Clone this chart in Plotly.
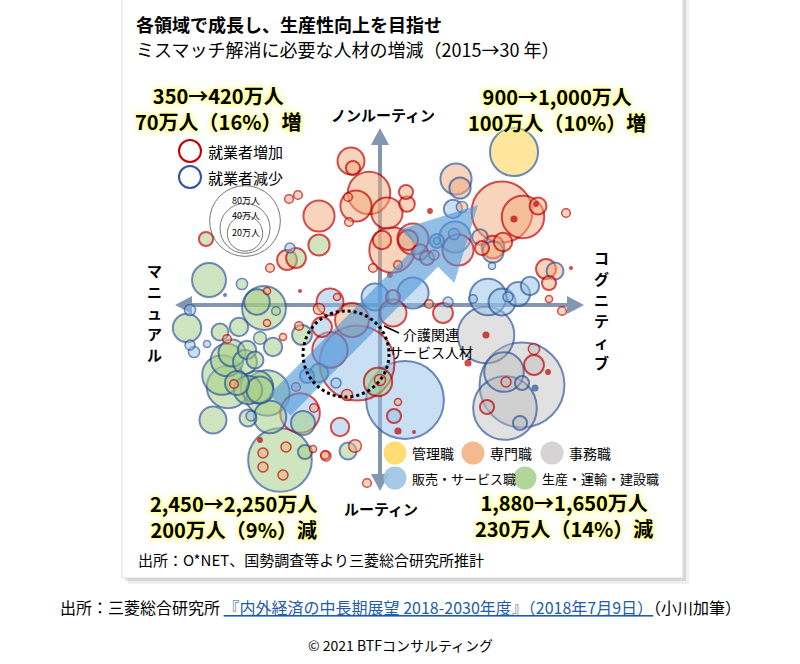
import math
import plotly.graph_objects as go

# ---------------- data ----------------
# position of each occupation: cognitive(+)/manual(-) score, non-routine(+)/routine(-) score
x_score = [
    -29, -27, -91, -82, -61, -31, -11, -24, -32, -61, -174, -90, -93, -84, -110, -171, -138, -7, -113,
    12, 2, 18, 7, 26, 27, -123, -116, -104, -113,
    134, 76, 80, 73, 82, 122, 143, 134, 158, 156, 186, 33, 28, 40, 47, 54, 57, 57, 75, 78, 74, 100,
    113, 123, 113, 102, 112, 166, 175, 169, 169, 191, 108, 122, 138, 150, 128, 93, 68, 33, 13, -5, 50, 10,
    49, 63, 13, 182, 106, 106, 154, 154, 124, 142, 125, 142, 126, 155, 107, 140, 88, 168, 25, 18, 14, 18, 34,
    -190, -193, -160, -141, -153, -120, -107, -97, -190, -186, -173, -148, -153, -133, -135, -125, -158,
    -152, -143, -132, -123, -113, -120, -146, -167, -132, -129, -110, -100, -117, -94, -117, -97, -75,
    -67, -54, -40, -32, -25, -120, -80, -77, -66, -84, -73, -61, -58, -61, -50, -28, -50, -23, -2, 0,
    -81, -78, -33, -44, -13, -55, -43, -155, -80,
]
y_score = [
    144, 137, 106, 110, 89, 83, 112, 99, 108, 60, 66, 57, 45, 47, 37, 25, 21, 37, 14,
    55, 65, 40, 92, 113, 101, 3, -3, -6, -18,
    153, 126, 117, 96, 98, 93, 88, 86, 99, 101, 92, 66, 65, 53, 47, 50, 64, 64, 68, 55, 71, 68,
    58, 63, 53, 57, 39, 36, 34, 22, 6, 37, 8, 3, 11, 19, 8, 6, 3, 12, 8, 8, 94, 30,
    1, -8, -8, -6, -30, -30, -44, -60, -67, -80, -103, -78, -77, -83, -102, -118, -58, -67, -95, -97, -111, -126, -127,
    -5, -23, -27, -22, -34, -33, -42, -32, -40, -47, -39, -48, -55, -45, -57, -55, -70,
    -82, -78, -85, -82, -88, -85, -79, -115, -113, -111, -112, -155, -148, -142, -162, -170, -147,
    -144, -151, -122, -146, -141, -135, -108, -118, -103, -82, -71, -68, -22, -4, 3, -15, -45, -58, -77, -75,
    -21, -30, -90, -78, -178, -150, 8, 10, 14,
]
# employment (万人)
workers = [
    11.6, 3.2, 1.2, 1.2, 15.5, 1.2, 28.8, 15.5, 1.2, 7.2, 3.2, 1.6, 6.3, 6.3, 1.2, 18.4, 2.0, 1.2, 0.8,
    32.8, 5.4, 1.2, 15.5, 3.2, 3.9, 10.4, 30.8, 1.2, 0.8,
    37.0, 15.5, 7.2, 5.4, 2.0, 59.2, 28.8, 0.5, 4.6, 0.3, 1.2, 15.5, 6.3, 3.9, 3.2, 1.6, 3.2, 0.8, 15.5, 15.5, 2.0, 3.9,
    8.2, 5.4, 7.2, 3.2, 0.8, 6.3, 4.6, 3.2, 0.8, 0.1, 21.6, 11.6, 9.2, 5.4, 1.6, 1.2, 1.6, 15.5, 3.2, 11.6, 0.3, 0.3,
    1.2, 6.3, 11.6, 1.2, 51.2, 0.5, 2.0, 6.3, 25.1, 115.2, 64.8, 3.2, 1.6, 0.5, 3.2, 3.2, 0.5, 0.3, 96.8, 0.8, 3.2, 0.5, 0.1,
    2.0, 12.8, 4.6, 5.4, 1.2, 2.6, 5.4, 0.8, 1.6, 2.0, 0.8, 11.6, 16.9, 5.4, 9.2, 4.6, 25.1,
    28.8, 9.2, 12.8, 16.9, 32.8, 11.6, 1.2, 11.6, 4.6, 1.6, 16.9, 64.8, 1.6, 1.6, 1.6, 1.6, 3.2,
    0.8, 1.6, 5.4, 4.6, 2.6, 0.3, 25.1, 9.2, 1.2, 1.2, 3.2, 5.4, 6.3, 2.0, 11.6, 18.4, 20.0, 89.9, 12.8, 2.0,
    1.2, 6.3, 2.0, 1.6, 1.2, 1.2, 0.8, 0.1, 0.1,
]
# M=管理職 P=専門職 C=事務職 S=販売・サービス職 G=生産・運輸・建設職
occupation = list(
    "PPPPPPPPPGGSPGPGGPP"
    "PPPPPPGGGP"
    "MPPSPPPPPPPCPCCCSGCCSP"
    "PPPPSPPPPPSSSSSSSSCSPP"
    "PCCPCPCCCCCCCSCCPPSPSPP"
    "SGGGPGGPSSSGGGGGG"
    "GGGGGGPGGSGGPPPPG"
    "PPSGPPSGPCSGSPSPSSGP"
    "PGPSPPPSP"
)
# u = employment increase (red ring), d = decrease (blue ring)
change = list(
    "uuuuuuuuuuuduuudduu"
    "uuuuuudddu"
    "ddddduuuuuuuuuuudddudd"
    "uudududuuudddddddduduu"
    "uuuuduuuddddududuuduuuu"
    "ddddudduddddddddd"
    "dddddduddddduuuud"
    "uuuduuuduuddu" "uuuuuuu"
    "ududuuudu"
)

categories = ["管理職", "専門職", "事務職", "販売・サービス職", "生産・運輸・建設職"]
quadrant_text = [
    "350→420万人<br>70万人（16%）増",
    "900→1,000万人<br>100万人（10%）増",
    "2,450→2,250万人<br>200万人（9%）減",
    "1,880→1,650万人<br>230万人（14%）減",
]
size_legend = [80, 40, 20]

# ---------------- styling ----------------
CX, CY = 380, 305          # pixel position of axis crossing
def X(px):
    return px - CX
def Y(py):
    return CY - py

FONT = "Noto Sans CJK JP"
FILL = {
    "M": "rgba(255,214,90,0.85)",
    "P": "rgba(244,172,125,0.72)",
    "C": "rgba(185,185,185,0.60)",
    "S": "rgba(150,192,232,0.72)",
    "G": "rgba(165,207,135,0.75)",
}
SOLID = {"M": "#FFD966", "P": "#F4B183", "C": "#D0CECE", "S": "#9DC3E6", "G": "#A9D18E"}
RING = {"u": "#C00000", "d": "#2F5597"}
SIZEREF = 0.032  # area mode: diameter = sqrt(v/sizeref)  -> 80万人 = 50px

n = min(len(x_score), len(y_score), len(workers), len(occupation), len(change))
order = sorted(range(n), key=lambda i: -workers[i])
fills, lines, widths = [], [], []
for i in order:
    ring = RING[change[i]]
    fills.append(ring if workers[i] < 0.6 else FILL[occupation[i]])
    lines.append(ring)
    widths.append(2 if workers[i] >= 3 else 1.5)

fig = go.Figure()
fig.add_trace(go.Scatter(
    x=[x_score[i] for i in order], y=[y_score[i] for i in order],
    mode="markers",
    marker=dict(size=[workers[i] for i in order], sizemode="area", sizeref=SIZEREF, sizemin=1,
                color=fills, line=dict(color=lines, width=widths)),
    hoverinfo="skip",
))

# size legend (nested circles, bottom aligned)
bottom = 246
sl_d = [math.sqrt(v / SIZEREF) for v in size_legend]
fig.add_trace(go.Scatter(
    x=[X(245)] * 3, y=[Y(bottom - d / 2) for d in sl_d], mode="markers",
    marker=dict(size=size_legend, sizemode="area", sizeref=SIZEREF,
                color="rgba(255,255,255,0)", line=dict(color="#404040", width=1)),
    hoverinfo="skip",
))
for v, py in zip(size_legend, [200, 215, 232]):
    fig.add_annotation(x=X(246), y=Y(py), text=f"{v}万人", showarrow=False,
                       font=dict(family=FONT, size=9, color="black"))

# 増加/減少 legend
for py, key, label in [(151, "u", "就業者増加"), (177, "d", "就業者減少")]:
    fig.add_trace(go.Scatter(x=[X(190)], y=[Y(py)], mode="markers",
                             marker=dict(size=22, color="white", line=dict(color=RING[key], width=2)),
                             hoverinfo="skip"))
    fig.add_annotation(x=X(206), y=Y(py), text=label, showarrow=False, xanchor="left",
                       font=dict(family=FONT, size=15, color="black"))

# category legend
cat_pos = [(395, 453), (473, 453), (552, 453), (395, 478), (525, 478)]
cat_font = [14, 14, 14, 13, 13]
for key, label, (px, py), fs in zip("MPCSG", categories, cat_pos, cat_font):
    fig.add_trace(go.Scatter(x=[X(px)], y=[Y(py)], mode="markers",
                             marker=dict(size=23, color=SOLID[key], opacity=0.9, line=dict(width=0)),
                             hoverinfo="skip"))
    fig.add_annotation(x=X(px + 15), y=Y(py), text=label, showarrow=False, xanchor="left",
                       font=dict(family=FONT, size=fs, color="black"))

# ---------------- shapes ----------------
shapes = []
for off, a in [(6, 0.06), (3, 0.10)]:
    shapes.append(dict(type="rect", xref="x", yref="y", x0=X(122 + off), x1=X(683 + off),
                       y0=Y(578 + off), y1=Y(-5), fillcolor=f"rgba(0,0,0,{a})", line=dict(width=0),
                       layer="below"))
shapes.append(dict(type="rect", xref="x", yref="y", x0=X(122), x1=X(683), y0=Y(578), y1=Y(-5),
                   fillcolor="white", line=dict(color="#DADADA", width=1), layer="below"))
AX = "#8497B0"
shapes += [
    dict(type="line", x0=X(188), x1=X(570), y0=0, y1=0, line=dict(color=AX, width=4), layer="below"),
    dict(type="line", x0=0, x1=0, y0=Y(142), y1=Y(477), line=dict(color=AX, width=4), layer="below"),
]
def tri(pts):
    return "M " + " L ".join(f"{X(a)},{Y(b)}" for a, b in pts) + " Z"
for pts in [[(175, 305), (192, 296), (192, 314)], [(584, 305), (567, 296), (567, 314)],
            [(380, 128), (371, 145), (389, 145)], [(380, 491), (371, 474), (389, 474)]]:
    shapes.append(dict(type="path", path=tri(pts), fillcolor=AX, line=dict(width=0), layer="below"))

# big transition arrow (manual/routine -> cognitive/non-routine)
tail = (X(280), Y(405)); tip = (X(478), Y(205))
L = math.hypot(tip[0] - tail[0], tip[1] - tail[1])
ux, uy = (tip[0] - tail[0]) / L, (tip[1] - tail[1]) / L
nx, ny = -uy, ux
hw, HW, HL = 15, 38, 72
bx, by = tip[0] - HL * ux, tip[1] - HL * uy
apts = [(tail[0] + hw * nx, tail[1] + hw * ny), (bx + hw * nx, by + hw * ny), (bx + HW * nx, by + HW * ny),
        tip, (bx - HW * nx, by - HW * ny), (bx - hw * nx, by - hw * ny), (tail[0] - hw * nx, tail[1] - hw * ny)]
shapes.append(dict(type="path", path="M " + " L ".join(f"{a},{b}" for a, b in apts) + " Z",
                   fillcolor="rgba(80,150,215,0.62)", line=dict(width=0), layer="above"))
shapes.append(dict(type="circle", x0=X(303), x1=X(389), y0=Y(397), y1=Y(311),
                   line=dict(color="black", width=3, dash="dot"), layer="above"))
shapes.append(dict(type="line", x0=X(384), y0=Y(326), x1=X(399), y1=Y(333),
                   line=dict(color="black", width=1.5), layer="above"))

# ---------------- texts ----------------
def ann(text, px, py, size, bold=False, xanchor="center", color="black", shadow=None):
    f = dict(family=FONT, size=size, color=color)
    if shadow:
        f["shadow"] = shadow
    fig.add_annotation(x=X(px), y=Y(py), text=f"<b>{text}</b>" if bold else text, showarrow=False,
                       xanchor=xanchor, yanchor="middle", font=f, align="center", borderpad=0)

ann("各領域で成長し、生産性向上を目指せ", 135, 24, 18, bold=True, xanchor="left")
ann("ミスマッチ解消に必要な人材の増減（2015→30 年）", 135, 49, 18, xanchor="left")
GLOW = "0 0 3px #FFFF70, 0 0 5px #FFFF70, 0 0 8px #FFFF90"
for txt, (px, py) in zip(quadrant_text, [(218, 108), (557, 109), (233, 516), (564, 515)]):
    ann(txt, px, py, 20, bold=True, shadow=GLOW)
ann("ノンルーティン", 383, 114, 15, bold=True)
ann("ルーティン", 381, 508, 15, bold=True)
for k, ch in enumerate("マニュアル"):
    ann(ch, 154, 270 + 21 * k, 15, bold=True)
for k, ch in enumerate("コグニティブ"):
    ann(ch, 601, 257 + 21 * k, 15, bold=True)
ann("介護関連<br>サービス人材", 431, 343, 14)
ann("出所：O*NET、国勢調査等より三菱総合研究所推計", 137, 559, 15, xanchor="left")
ann('出所：三菱総合研究所 <span style="color:#1F5BA8"><u>『内外経済の中長期展望 2018-2030年度』（2018年7月9日）</u></span>（小川加筆）',
    400, 607, 16)
ann("© 2021 BTFコンサルティング", 400, 645, 14)

fig.update_layout(
    width=800, height=664, margin=dict(l=0, r=0, t=0, b=0),
    paper_bgcolor="white", plot_bgcolor="white", showlegend=False, hovermode=False,
    xaxis=dict(range=[X(0), X(800)], visible=False, fixedrange=True),
    yaxis=dict(range=[Y(664), Y(0)], visible=False, fixedrange=True),
    shapes=shapes,
)
fig.write_html("out.html", config={"displayModeBar": False},
               post_script="document.body.style.margin='0';document.body.style.overflow='hidden';")
